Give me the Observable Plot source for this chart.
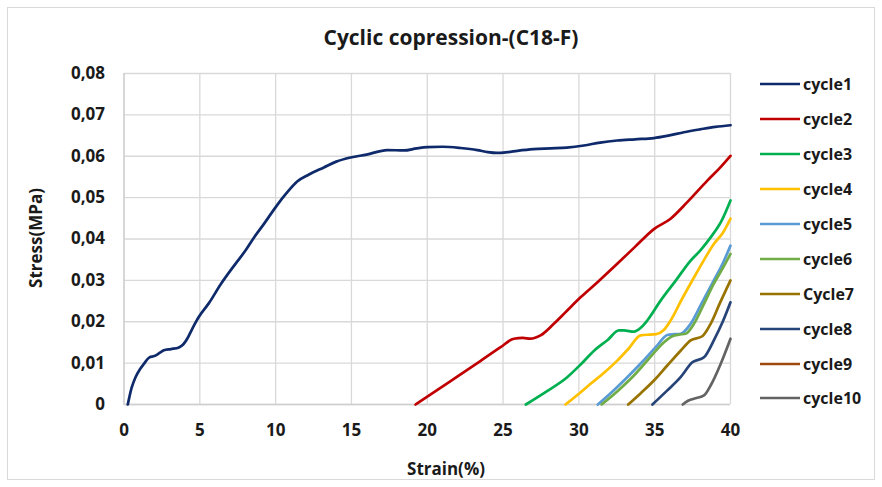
<!DOCTYPE html>
<html><head><meta charset="utf-8">
<script src="https://cdn.jsdelivr.net/npm/d3@7"></script>
<script src="https://cdn.jsdelivr.net/npm/@observablehq/plot@0.6"></script>
<style>
body{margin:0;background:#fff;font-family:"Open Sans",Lato,sans-serif;color:#1a1a1a}
#wrap{position:relative;width:882px;height:487px;overflow:hidden;background:#fff}
#border{position:absolute;left:7px;top:7px;width:868px;height:473px;border:1px solid #d9d9d9;box-sizing:border-box}
#title{position:absolute;left:0;top:37px;width:902px;text-align:center;font-weight:bold;font-size:21px;transform:translateY(-50%)}
#plot{position:absolute;left:0;top:0}
#ylab{position:absolute;left:35px;top:238px;transform:translate(-50%,-50%) rotate(-90deg);font-weight:bold;font-size:17px;white-space:nowrap}
#xlab{position:absolute;left:446px;top:468px;transform:translate(-50%,-50%);font-weight:bold;font-size:17px;white-space:nowrap}
#legend{position:absolute;left:760px;top:0}
.row{position:absolute;left:0;display:flex;align-items:center;transform:translateY(-50%);font-weight:bold;font-size:16px;white-space:nowrap}
.row svg{margin-right:3px}
</style>
</head><body>
<div id="wrap">
  <div id="border"></div>
  <div id="title">Cyclic copression-(C18-F)</div>
  <div id="plot"></div>
  <div id="ylab">Stress(MPa)</div>
  <div id="xlab">Strain(%)</div>
  <div id="legend"></div>
</div>
<script>
// Series names and colours
const seriesNames = ["cycle1","cycle2","cycle3","cycle4","cycle5","cycle6","Cycle7","cycle8","cycle9","cycle10"];
const seriesColors = ["#0e2a6b","#c00000","#00b050","#ffc000","#5b9bd5","#70ad47","#997300","#264478","#9e480e","#636363"];

// [strain %, stress MPa]
const cycle1 = [[0.25,0],[0.5,0.0040],[0.76,0.0066],[1.05,0.0085],[1.31,0.0098],[1.68,0.0114],[2.0,0.0117],[2.4,0.0126],[2.63,0.0131],[3.1,0.0134],[3.62,0.0138],[3.9,0.0145],[4.17,0.0159],[4.5,0.0183],[4.94,0.0212],[5.6,0.0245],[6.37,0.0290],[7.35,0.0340],[8.01,0.0372],[8.6,0.0405],[9.22,0.0436],[10.1,0.0482],[10.7,0.0510],[11.42,0.0539],[12.2,0.0556],[13.18,0.0573],[14.0,0.0587],[14.94,0.0597],[16.0,0.0604],[17.36,0.0615],[18.46,0.0614],[19.3,0.0619],[20.0,0.0622],[21.0,0.0623],[22.2,0.0620],[23.3,0.0615],[24.0,0.0610],[24.6,0.0608],[25.3,0.0610],[25.94,0.0613],[27.0,0.0617],[28.13,0.0619],[29.2,0.0621],[30.33,0.0626],[31.4,0.0633],[32.53,0.0638],[33.7,0.0641],[34.95,0.0644],[35.9,0.0650],[36.93,0.0658],[38.0,0.0665],[39.0,0.0671],[40,0.0675]];
const cycle2 = [[19.23,0],[20.5,0.0031],[22.0,0.0068],[23.5,0.0105],[24.84,0.01385],[25.71,0.0159],[26.3,0.0161],[26.81,0.0159],[27.47,0.0167],[28.35,0.0195],[29.2,0.0226],[30.11,0.0259],[31.3,0.0298],[32.53,0.0340],[33.7,0.0381],[34.95,0.0424],[36.05,0.0449],[37.15,0.0489],[38.47,0.0541],[39.3,0.0572],[40,0.0601]];
const cycle3 = [[26.5,0],[27.8,0.0030],[29.23,0.0066],[30.1,0.0096],[31.0,0.0130],[31.9,0.0156],[32.64,0.0179],[32.97,0.0179],[33.63,0.0176],[34.1,0.0186],[34.51,0.0203],[35.39,0.0251],[36.4,0.0300],[37.37,0.0348],[38.0,0.0372],[38.69,0.0404],[39.4,0.0443],[40,0.0493]];
const cycle4 = [[29.12,0],[30.0,0.0026],[30.77,0.0050],[31.7,0.0078],[32.53,0.0106],[33.3,0.0136],[34.07,0.0167],[34.73,0.0169],[35.1,0.0170],[35.6,0.0180],[36.05,0.0203],[36.8,0.0255],[37.59,0.0307],[38.2,0.0346],[38.9,0.0388],[39.5,0.0415],[40,0.0449]];
const cycle5 = [[31.25,0],[32.2,0.0031],[33.19,0.0066],[34.2,0.0104],[35.17,0.0143],[35.83,0.0168],[36.3,0.0170],[36.71,0.0171],[37.37,0.0195],[38.1,0.0245],[38.9,0.0300],[39.5,0.0342],[40,0.0384]];
const cycle6 = [[31.5,0],[32.6,0.0034],[33.63,0.0070],[34.6,0.0110],[35.6,0.0150],[36.16,0.0165],[36.6,0.0169],[37.04,0.0171],[37.59,0.0195],[38.25,0.0243],[38.9,0.0292],[39.5,0.0330],[40,0.0364]];
const cycle7 = [[33.25,0],[34.1,0.0028],[34.95,0.0058],[35.8,0.0093],[36.71,0.0130],[37.37,0.0155],[38.14,0.0165],[38.69,0.0195],[39.3,0.0245],[40,0.0300]];
const cycle8 = [[34.85,0],[35.8,0.0033],[36.71,0.0066],[37.48,0.0102],[38.25,0.0114],[38.9,0.0155],[39.5,0.0201],[40,0.0247]];
const cycle9 = [];
const cycle10 = [[36.85,0],[37.2,0.0009],[37.59,0.0014],[38.25,0.0022],[38.69,0.0046],[39.35,0.0098],[40,0.0159]];

const xTicks = [0,5,10,15,20,25,30,35,40];
const yTicks = [0,0.01,0.02,0.03,0.04,0.05,0.06,0.07,0.08];

const allSeries = [cycle1,cycle2,cycle3,cycle4,cycle5,cycle6,cycle7,cycle8,cycle9,cycle10];
const rows = allSeries.flatMap((s,i) => s.map(([x,y]) => ({series: seriesNames[i], x, y})));

const yFmt = d => d === 0 ? "0" : d.toFixed(2).replace(".", ",");

const chart = Plot.plot({
  width: 750, height: 487,
  marginLeft: 123.5, marginRight: 20, marginTop: 73, marginBottom: 83,
  style: {fontFamily: "'Open Sans', Lato, sans-serif", fontSize: "17px", fontWeight: "bold", color: "#1a1a1a", background: "transparent"},
  x: {domain: [0,40], ticks: xTicks, tickSize: 0, tickPadding: 20, label: null},
  y: {domain: [0,0.08], ticks: yTicks, tickSize: 0, tickPadding: 18, tickFormat: yFmt, label: null},
  color: {domain: seriesNames, range: seriesColors},
  marks: [
    Plot.gridX(xTicks, {stroke: "#d9d9d9", strokeOpacity: 1, strokeWidth: 1.3}),
    Plot.gridY(yTicks, {stroke: "#d9d9d9", strokeOpacity: 1, strokeWidth: 1.3}),
    Plot.ruleY([0], {stroke: "#cfcfcf", strokeWidth: 1.3}),
    Plot.ruleX([0], {stroke: "#cfcfcf", strokeWidth: 1.3}),
    Plot.axisX(xTicks, {tickSize: 0, tickPadding: 19, fontSize: 17, fontWeight: "bold", label: null}),
    Plot.axisY(yTicks, {tickSize: 0, tickPadding: 19, tickFormat: yFmt, fontSize: 17, fontWeight: "bold", label: null}),
    Plot.line(rows, {x: "x", y: "y", z: "series", stroke: "series", strokeWidth: 2.7, curve: "monotone-x"})
  ]
});
document.getElementById("plot").appendChild(chart);

// Legend
const legend = document.getElementById("legend");
const rowY = [84,119,154,189,224,259,294,329,364,398];
seriesNames.forEach((name,i) => {
  const r = document.createElement("div");
  r.className = "row";
  r.style.top = rowY[i] + "px";
  r.innerHTML = `<svg width="40" height="6"><line x1="0" x2="40" y1="3" y2="3" stroke="${seriesColors[i]}" stroke-width="2.7"/></svg><span>${name}</span>`;
  legend.appendChild(r);
});
</script>
</body></html>
